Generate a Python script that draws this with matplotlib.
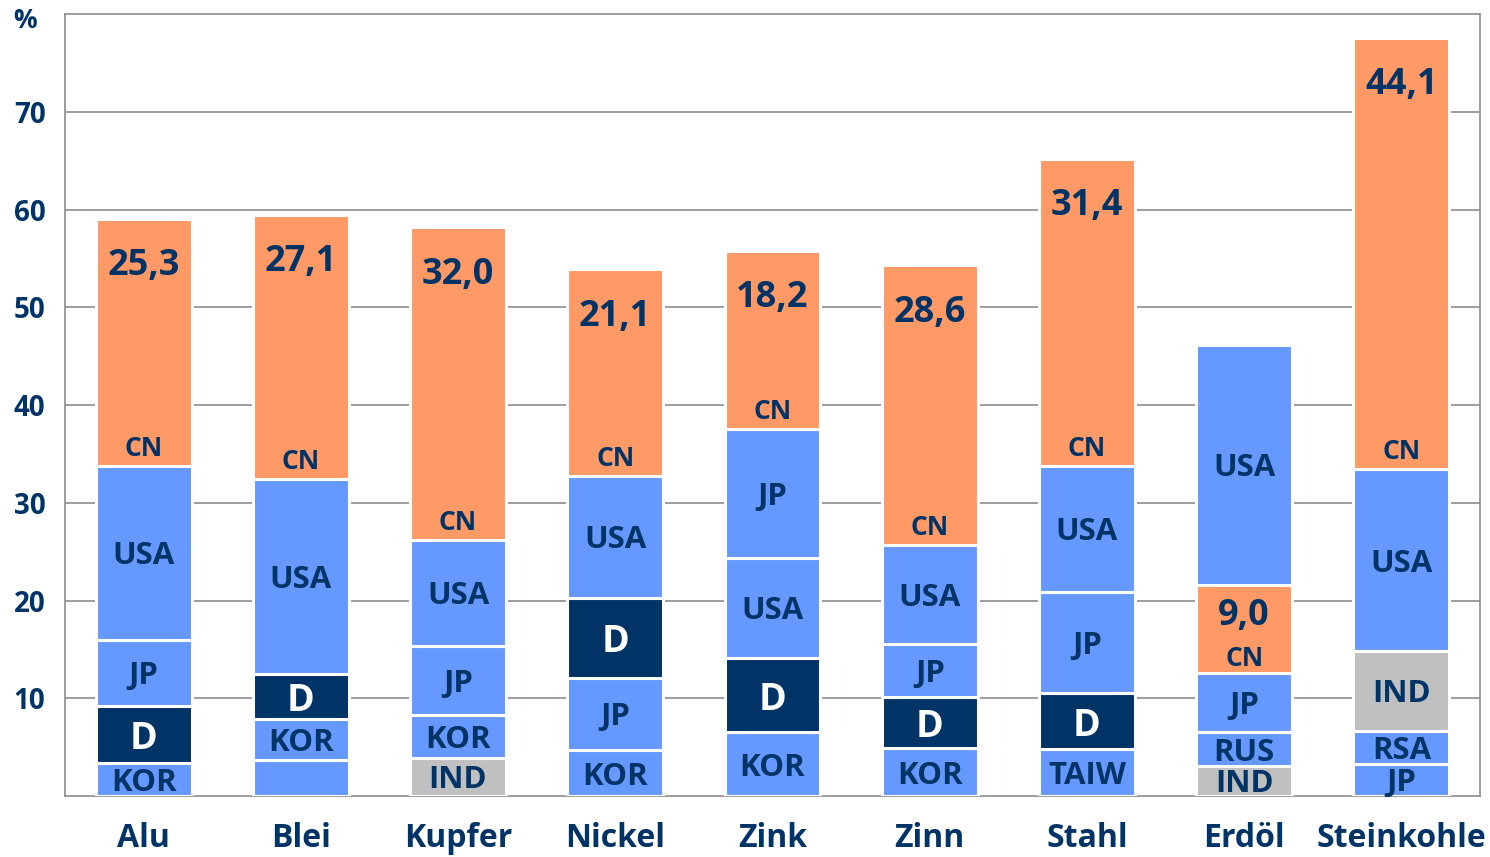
import matplotlib.pyplot as plt

plt.rcParams['font.family'] = ['Open Sans', 'DejaVu Sans']

categories = ['Alu', 'Blei', 'Kupfer', 'Nickel', 'Zink', 'Zinn', 'Stahl', 'Erdöl', 'Steinkohle']

# segments of each bar, bottom to top
seg_labels = [
    ['KOR', 'D', 'JP', 'USA', 'CN'],
    ['', 'KOR', 'D', 'USA', 'CN'],
    ['IND', 'KOR', 'JP', 'USA', 'CN'],
    ['KOR', 'JP', 'D', 'USA', 'CN'],
    ['KOR', 'D', 'USA', 'JP', 'CN'],
    ['KOR', 'D', 'JP', 'USA', 'CN'],
    ['TAIW', 'D', 'JP', 'USA', 'CN'],
    ['IND', 'RUS', 'JP', 'CN', 'USA'],
    ['JP', 'RSA', 'IND', 'USA', 'CN'],
]
seg_values = [
    [3.4, 5.8, 6.8, 17.8, 25.3],
    [3.7, 4.2, 4.6, 19.9, 27.1],
    [3.9, 4.4, 7.1, 10.8, 32.0],
    [4.7, 7.4, 8.2, 12.5, 21.1],
    [6.5, 7.6, 10.3, 13.2, 18.2],
    [4.9, 5.2, 5.5, 10.1, 28.6],
    [4.8, 5.7, 10.4, 12.9, 31.4],
    [3.1, 3.4, 6.1, 9.0, 24.6],
    [3.3, 3.4, 8.1, 18.7, 44.1],
]
cn_labels = ['25,3', '27,1', '32,0', '21,1', '18,2', '28,6', '31,4', '9,0', '44,1']

navy = '#003366'
colors = {'CN': '#FF9966', 'D': '#003366', 'IND': '#C0C0C0'}
blue = '#6699FF'

fig = plt.figure(figsize=(14.9, 8.57), dpi=100)
ax = fig.add_axes([0.0436, 0.0712, 0.9497, 0.912])

for i, (labs, vals) in enumerate(zip(seg_labels, seg_values)):
    bottom = 0
    for lab, v in zip(labs, vals):
        ax.bar(i, v, bottom=bottom, width=0.61, color=colors.get(lab, blue),
               edgecolor='white', linewidth=2.2, zorder=3)
        if lab == 'CN':
            off = min(4.4, v * 0.3)
            ax.text(i, bottom + v - off, cn_labels[i], ha='center', va='center_baseline',
                    fontsize=26, fontweight='bold', color=navy, zorder=4)
            ax.text(i, bottom + min(2.1, v * 0.2), 'CN', ha='center', va='center_baseline',
                    fontsize=19, fontweight='bold', color=navy, zorder=4)
        elif lab:
            ax.text(i, bottom + v / 2, lab, ha='center', va='center_baseline',
                    fontsize=27 if lab == 'D' else 22.5, fontweight='bold',
                    color='white' if lab == 'D' else navy, zorder=4)
        bottom += v

ax.set_xlim(-0.5, len(categories) - 0.5)
ax.set_ylim(0, 80)
ax.set_yticks(range(10, 80, 10))
ax.set_xticks(range(len(categories)))
ax.set_xticklabels(categories)
ax.tick_params(length=0)
ax.tick_params(axis='x', pad=19, labelsize=23)
ax.tick_params(axis='y', pad=14, labelsize=20)
for lbl in ax.get_xticklabels() + ax.get_yticklabels():
    lbl.set_fontweight('bold')
    lbl.set_color(navy)
ax.grid(axis='y', color='#8c8c8c', linewidth=1.2, zorder=0)
for s in ax.spines.values():
    s.set_color('#8c8c8c')
    s.set_linewidth(1.2)

fig.text(25 / 1490, 1 - 20 / 857, '%', ha='center', va='center',
         fontsize=19, fontweight='bold', color=navy)

fig.savefig('out.png', dpi=100)
